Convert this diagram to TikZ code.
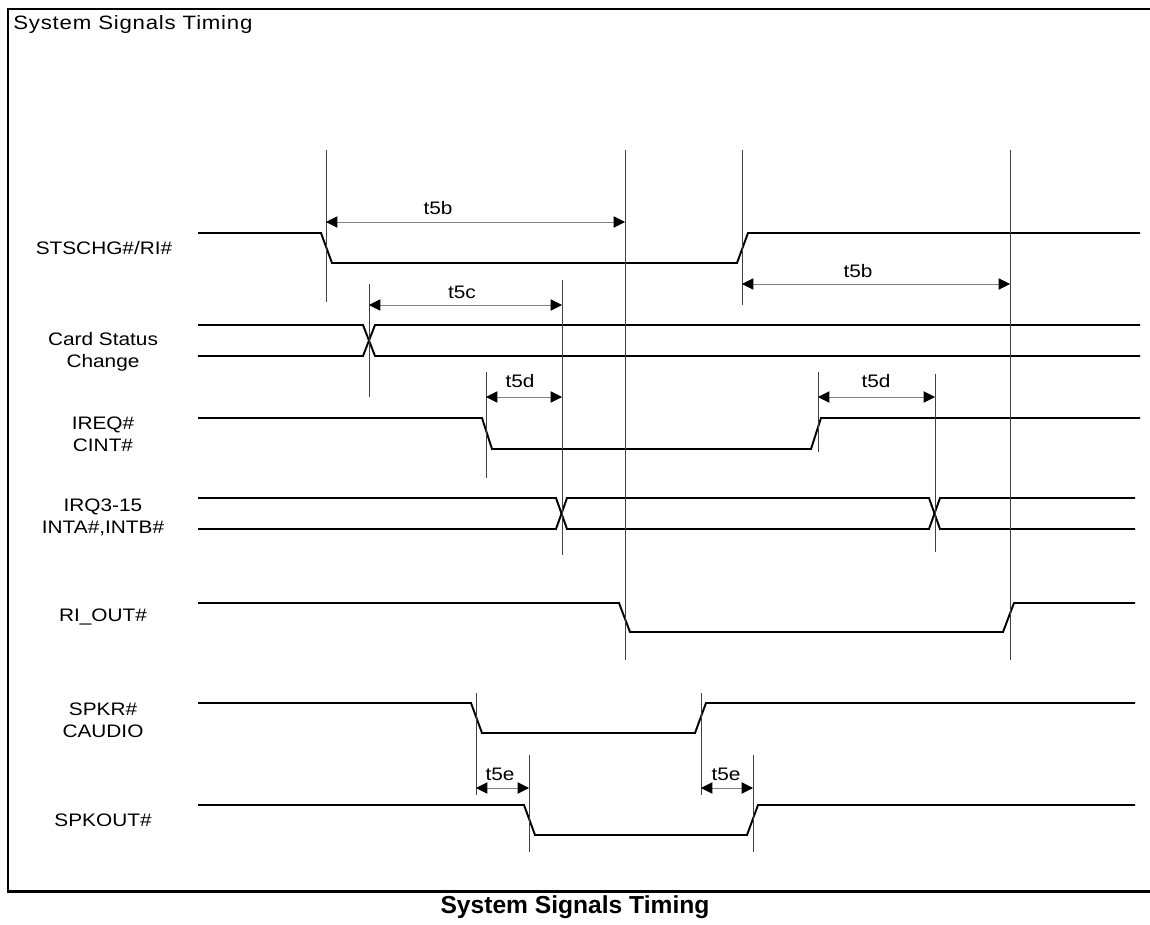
\documentclass[tikz,border=0pt]{standalone}
\usepackage{fontspec}
\setmainfont{Liberation Sans}
\newfontfamily\labelface[FakeStretch=1.15]{Liberation Sans}
\newfontfamily\titleface[FakeStretch=1.15,LetterSpace=4]{Liberation Sans}
\usetikzlibrary{arrows.meta}
\tikzstyle{sig}=[line width=1.1pt, line join=miter]
\tikzstyle{guide}=[line width=0.45pt, black!75]
\tikzstyle{span}=[line width=0.5pt, black!50,
  {Triangle[length=6.5pt,width=6.5pt,black]}-{Triangle[length=6.5pt,width=6.5pt,black]}]
\tikzstyle{signame}=[align=center, font=\labelface\fontsize{10.3}{12.5}\selectfont, inner sep=0pt]
\tikzstyle{tlabel}=[font=\labelface\fontsize{10.3}{12}\selectfont, inner sep=0pt]

\begin{document}
\begin{tikzpicture}[x=0.02cm, y=-0.02cm]
\useasboundingbox (0,0) rectangle (1150,924);
\draw[line width=1.7pt] (8,9) rectangle (1152,891);
\node[anchor=west, inner sep=0pt, font=\titleface\fontsize{11}{13}\selectfont] (title) at (13,24) {System Signals Timing};
\node[font=\bfseries\fontsize{14}{16}\selectfont, inner sep=0pt] (caption) at (575,907) {System Signals Timing};
%
\node[signame] (stschg) at (104,248) {STSCHG\#/RI\#};
\node[signame] (csc) at (103,352) {Card Status\\Change};
\node[signame] (ireq) at (103,434) {IREQ\#\\CINT\#};
\node[signame] (irq) at (103,517) {IRQ3-15\\INTA\#,INTB\#};
\node[signame] (riout) at (103,617) {RI\_OUT\#};
\node[signame] (spkr) at (103,720) {SPKR\#\\CAUDIO};
\node[signame] (spkout) at (103,820) {SPKOUT\#};
%
\draw[sig] (198,233) -- (321,233) -- (332,263) -- (737,263) -- (748,233) -- (1140,233);
\draw[sig] (198,325) -- (363,325) -- (375,356) -- (1140,356);
\draw[sig] (198,356) -- (363,356) -- (375,325) -- (1140,325);
\draw[sig] (198,418) -- (482,418) -- (492,449) -- (811,449) -- (821,418) -- (1140,418);
\draw[sig] (198,498) -- (556,498) -- (567,529) -- (929,529) -- (940,498) -- (1135,498);
\draw[sig] (198,529) -- (556,529) -- (567,498) -- (929,498) -- (940,529) -- (1135,529);
\draw[sig] (198,603) -- (619,603) -- (630,632) -- (1003,632) -- (1014,603) -- (1135,603);
\draw[sig] (198,703) -- (471,703) -- (482,733) -- (695,733) -- (706,703) -- (1135,703);
\draw[sig] (198,805) -- (524,805) -- (535,835) -- (747,835) -- (758,805) -- (1135,805);
%
\coordinate (a1) at (326,222); \coordinate (a2) at (625,222);
\coordinate (b1) at (742,284); \coordinate (b2) at (1010,284);
\coordinate (c1) at (369,305); \coordinate (c2) at (562,305);
\coordinate (d1) at (486,397); \coordinate (d2) at (562,397);
\coordinate (d3) at (818,397); \coordinate (d4) at (935,397);
\coordinate (e1) at (476,788); \coordinate (e2) at (529,788);
\coordinate (e3) at (701,788); \coordinate (e4) at (753,788);
%
\draw[guide] (326,150) -- (326,302);
\draw[guide] (625,150) -- (625,660);
\draw[guide] (742,150) -- (742,305);
\draw[guide] (1010,150) -- (1010,660);
\draw[guide] (369,284) -- (369,397);
\draw[guide] (562,280) -- (562,555);
\draw[guide] (486,372) -- (486,478);
\draw[guide] (818,372) -- (818,452);
\draw[guide] (935,374) -- (935,552);
\draw[guide] (476,693) -- (476,795);
\draw[guide] (701,693) -- (701,795);
\draw[guide] (529,755) -- (529,852);
\draw[guide] (753,755) -- (753,852);
%
\draw[span] (a1) -- (a2); \node[tlabel] (t5b1) at (438,208) {t5b};
\draw[span] (b1) -- (b2); \node[tlabel] (t5b2) at (858,271) {t5b};
\draw[span] (c1) -- (c2); \node[tlabel] (t5c) at (462,292) {t5c};
\draw[span] (d1) -- (d2); \node[tlabel] (t5d1) at (520,381) {t5d};
\draw[span] (d3) -- (d4); \node[tlabel] (t5d2) at (876,381) {t5d};
\draw[span] (e1) -- (e2); \node[tlabel] (t5e1) at (500,774) {t5e};
\draw[span] (e3) -- (e4); \node[tlabel] (t5e2) at (726,774) {t5e};
\end{tikzpicture}
\end{document}
